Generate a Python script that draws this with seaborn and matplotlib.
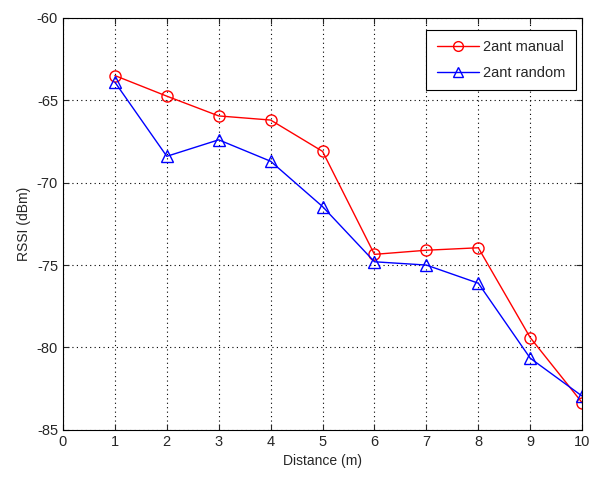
import matplotlib
matplotlib.use('Agg')
import matplotlib.pyplot as plt
import pandas as pd
import seaborn as sns

distance = [1, 2, 3, 4, 5, 6, 7, 8, 9, 10]
manual = [-63.5, -64.75, -65.95, -66.2, -68.1, -74.35, -74.1, -73.95, -79.4, -83.35]
random_ = [-63.9, -68.4, -67.4, -68.7, -71.45, -74.8, -75.0, -76.1, -80.65, -82.95]

df = pd.DataFrame({'distance': distance * 2,
                   'rssi': manual + random_,
                   'series': ['2ant manual'] * 10 + ['2ant random'] * 10})

sns.set_style('ticks')
plt.rcParams['font.family'] = ['Liberation Sans', 'DejaVu Sans']
plt.rcParams['axes.unicode_minus'] = False

fig = plt.figure(figsize=(5.94, 4.83), dpi=100)
ax = fig.add_axes([0.106, 0.110, 0.874, 0.853])

sns.lineplot(data=df, x='distance', y='rssi', hue='series', style='series',
             palette={'2ant manual': 'red', '2ant random': 'blue'},
             markers={'2ant manual': 'o', '2ant random': '^'},
             dashes=False, linewidth=1, markersize=8,
             markerfacecolor='none', ax=ax)
for line in ax.lines:
    line.set_markerfacecolor('none')
    line.set_markeredgecolor(line.get_color())
    line.set_markeredgewidth(1)

ax.set_xlim(0, 10)
ax.set_ylim(-85, -60)
ax.set_xticks(range(0, 11))
ax.set_yticks(range(-85, -59, 5))
ax.grid(True, linestyle=(0, (1, 3)), color='black', linewidth=0.8)
ax.tick_params(direction='in', top=True, right=True, labelsize=10.5, length=4)
for s in ax.spines.values():
    s.set_visible(True)
    s.set_linewidth(0.8)
    s.set_color('black')
ax.set_xlabel('Distance (m)', fontsize=10)
ax.set_ylabel('RSSI (dBm)', fontsize=10)

leg = ax.legend(loc='upper right', bbox_to_anchor=(0.988, 0.97),
                fontsize=10.5, fancybox=False, framealpha=1,
                edgecolor='black', borderaxespad=0, handlelength=2.9,
                borderpad=0.7, labelspacing=0.8, handletextpad=0.3)
leg.get_frame().set_linewidth(0.8)
for h in leg.legend_handles:
    h.set_markerfacecolor('none')
    h.set_markersize(7)

fig.savefig('out.png', dpi=100)
